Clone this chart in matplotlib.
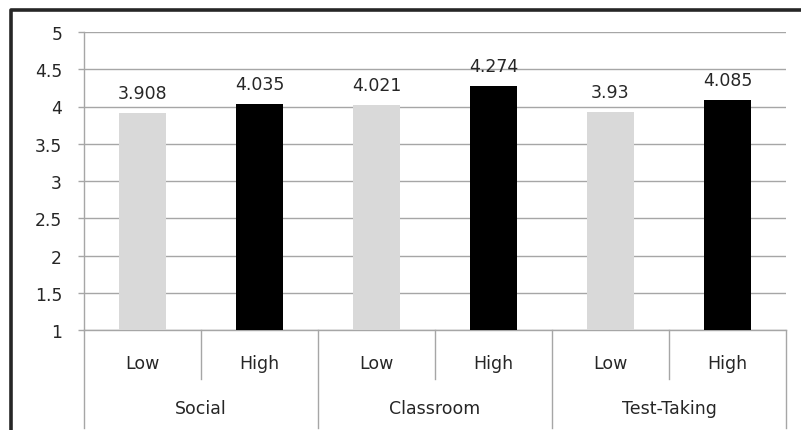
import numpy as np
import matplotlib as mpl
mpl.use("Agg")
from matplotlib import pyplot as plt
from matplotlib.lines import Line2D

mpl.rcParams.update({
    "font.family": "DejaVu Sans",
    "font.size": 12.5,
    "text.color": "#262626",
})

groups = ["Social", "Classroom", "Test-Taking"]
levels = ["Low", "High"]
low_vals = [3.908, 4.021, 3.93]
high_vals = [4.035, 4.274, 4.085]
yticks = [1, 1.5, 2, 2.5, 3, 3.5, 4, 4.5, 5]
colors = {"Low": "#d9d9d9", "High": "#000000"}
gridc = "#a6a6a6"

fig = plt.figure(figsize=(8.01, 4.31), dpi=100)
ax = fig.add_axes([84/801, 100/431, 702/801, 298/431])

# interleave low/high per group
vals = []
lvls = []
for lo, hi in zip(low_vals, high_vals):
    vals += [lo, hi]
    lvls += levels
x = np.arange(len(vals))

ax.bar(x, vals, width=0.4, color=[colors[l] for l in lvls], zorder=3)
for xi, v in zip(x, vals):
    ax.annotate(f"{v:g}", (xi, v), xytext=(0, 14.4), textcoords="offset points",
                ha="center", va="center", fontsize=12.5, color="#262626")

ax.set_xlim(-0.5, len(vals) - 0.5)
ax.set_ylim(1, 5)
ax.set_yticks(yticks)
ax.set_yticklabels([f"{t:g}" for t in yticks])
ax.yaxis.grid(True, color=gridc, linewidth=1, zorder=0)
ax.tick_params(axis="y", length=4.3, width=1, color=gridc, pad=11.5,
               labelsize=12.3, labelcolor="#262626")
ax.set_xticks([])
for s in ["top", "right"]:
    ax.spines[s].set_visible(False)
for s in ["left", "bottom"]:
    ax.spines[s].set_color(gridc)
    ax.spines[s].set_linewidth(1)

# two-level category axis
tr = ax.get_xaxis_transform()
for xi, l in zip(x, lvls):
    ax.text(xi, -0.111, l, transform=tr, ha="center", va="center", fontsize=12.5)
for i in range(len(groups)):
    ax.plot([2*i + 0.5, 2*i + 0.5], [0, -0.164], transform=tr, color=gridc,
            lw=1, clip_on=False)
    ax.text(2*i + 0.5, -0.262, groups[i], transform=tr, ha="center",
            va="center", fontsize=12.5)
for xb in [-0.5, 1.5, 3.5, 5.5]:
    ax.plot([xb, xb], [0, -0.329], transform=tr, color=gridc, lw=1,
            clip_on=False)

# outer frame (left and top)
fig.add_artist(Line2D([10.5/801, 10.5/801, 1], [0, 1 - 10.5/431, 1 - 10.5/431],
                      transform=fig.transFigure, color="#262626", lw=2.6))

fig.savefig("out.png", dpi=100)
